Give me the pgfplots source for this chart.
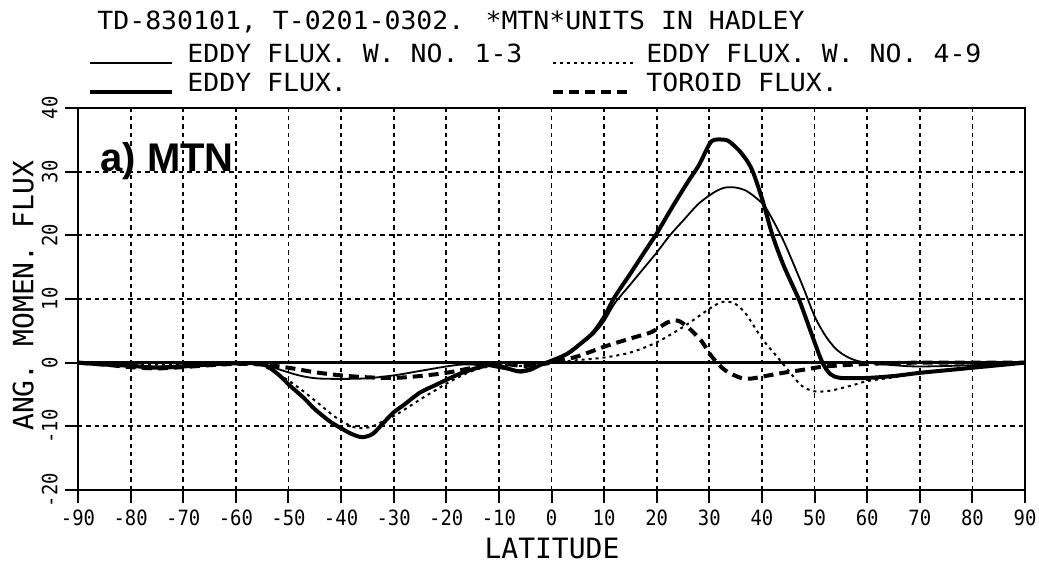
\documentclass[border=0pt]{standalone}
\usepackage{fontspec}
\usepackage{pgfplots}
\pgfplotsset{compat=1.18}
\newfontfamily\plotfont[FakeStretch=1.06]{DejaVu Sans Mono}
\newfontfamily\tickfont[FakeStretch=0.9]{DejaVu Sans Mono}
\newfontfamily\labfont{DejaVu Sans Mono}
\newfontfamily\tagfont{Liberation Sans}

\tikzset{
  w13/.style={line width=0.9pt},
  w49/.style={line width=1pt, dash pattern=on 1.5pt off 2pt},
  eddy/.style={line width=2pt},
  toroid/.style={line width=2pt, dash pattern=on 5pt off 3pt},
}

\begin{document}
\begin{tikzpicture}
\begin{axis}[
    scale only axis,
    width=473.5pt, height=191pt,
    xmin=-90, xmax=90, ymin=-20, ymax=40,
    clip mode=individual,
    xtick={-90,-80,-70,-60,-50,-40,-30,-20,-10,0,10,20,30,40,50,60,70,80,90},
    xticklabels={-90,-80,-70,-60,-50,-40,-30,-20,-10,0,10,20,30,40,50,60,70,80,90},
    ytick={-20,-10,0,10,20,30,40},
    yticklabels={},
    xtick pos=left, ytick pos=left,
    tick align=outside,
    major tick length=6.5pt,
    tick style={line width=1pt, black},
    grid=major,
    major grid style={line width=0.9pt, dash pattern=on 2.2pt off 2pt, black},
    axis line style={line width=1.3pt},
    xticklabel style={font=\tickfont\fontsize{10.5}{10.5}\selectfont},
    xlabel={LATITUDE},
    ylabel={ANG. MOMEN. FLUX},
    xlabel style={font=\labfont\fontsize{14}{14}\selectfont, at={(rel axis cs:0.5005,-0.154)}, anchor=center},
    ylabel style={font=\labfont\fontsize{14}{14}\selectfont, at={(rel axis cs:-0.058,0.508)}, anchor=center},
]
% zero line
\addplot[line width=1.6pt, forget plot] coordinates {(-90,0) (90,0)};

% eddy flux, wave numbers 1-3
\addplot[w13, smooth] coordinates {
    (-90,0) (-80,-0.4) (-75,-0.6) (-70,-0.4) (-60,-0.1) (-55,-0.2) (-52,-1)
    (-48,-2) (-44,-2.5) (-36,-2.5) (-30,-2) (-25,-1.3) (-20,-0.6) (-17,-0.3)
    (-13,-0.4) (-9,-1) (-6,-1.2) (-3,-0.6) (0,0.3) (3,1.3) (6,3.2) (8,4.5)
    (10,6.5) (12,9.3) (15,12.3) (18,15.3) (20,17.3) (22.5,20) (25,22.3)
    (28,25) (31,26.8) (33,27.5) (35,27.5) (37,27) (39,25.8) (40.5,24.6)
    (42,22.5) (44,19.3) (46,15.5) (48,11.5) (50,7.3) (52,4.3) (54,2.2)
    (56,1) (58,0.3) (60,0) (65,-0.4) (70,-0.6) (80,-0.4) (90,0)
};

% eddy flux, wave numbers 4-9
\addplot[w49, smooth] coordinates {
    (-90,0) (-80,-0.3) (-70,-0.3) (-60,-0.1) (-56,-0.2) (-53,-1.3) (-50,-2.8)
    (-47,-4.6) (-44,-6.6) (-41,-8.6) (-38,-10) (-36,-10.3) (-34,-10)
    (-32,-9.2) (-30,-8.4) (-28,-7.4) (-25,-5.8) (-22,-4.3) (-20,-3.3)
    (-17,-2) (-14,-1) (-10,-0.4) (-5,-0.5) (0,0) (5,0.4) (10,0.8) (15,1.6)
    (20,3.2) (25,5.6) (28,7.3) (31,9) (33,9.6) (35,9.2) (37,7.6) (40,3.8)
    (43,0.8) (45,-1.2) (47.5,-3.6) (50,-4.5) (53,-4.4) (57,-3.6) (60,-2.9)
    (65,-2.3) (70,-1.6) (80,-0.8) (90,0)
};

% total eddy flux
\addplot[eddy, smooth] coordinates {
    (-90,0) (-85,-0.3) (-80,-0.5) (-75,-0.8) (-70,-0.6) (-65,-0.3) (-60,-0.1)
    (-55,-0.2) (-52,-1.8) (-50,-3.4) (-47,-5.6) (-45,-7.3) (-42,-9.3)
    (-40,-10.3) (-38,-11.2) (-36,-11.7) (-34,-11.2) (-32,-9.5) (-30,-7.8)
    (-28,-6.6) (-25,-4.7) (-22,-3.5) (-20,-2.7) (-17,-1.6) (-14,-0.8)
    (-11,-0.3) (-8,-1) (-6,-1.4) (-4,-1.1) (-2,-0.3) (0,0.3) (3,1.4) (6,3.3)
    (8,4.8) (10,7.2) (12,10.3) (15,14) (18,17.8) (20,20.3) (23,24.5)
    (26,28.5) (28,31) (30,34.3) (31,35) (33,35) (34,34.6) (36,33) (38,30.5)
    (40,25.8) (42,20) (44,15.5) (46,11.8) (47,10) (48,7.8) (50,3.2)
    (51.5,0) (53,-1.8) (55,-2.4) (60,-2.4) (65,-2.1) (70,-1.6) (75,-1.2)
    (80,-0.8) (85,-0.4) (90,0)
};

% toroid flux
\addplot[toroid, smooth] coordinates {
    (-90,0) (-85,-0.3) (-80,-0.7) (-75,-0.9) (-70,-0.7) (-65,-0.4) (-60,-0.2)
    (-55,-0.3) (-50,-0.8) (-45,-1.5) (-40,-2) (-35,-2.3) (-30,-2.4)
    (-25,-2.1) (-20,-1.6) (-15,-0.8) (-12,-0.3) (-9,-0.2) (-5,-0.5) (0,0)
    (5,1) (10,2.5) (15,3.8) (19,4.8) (22,6.3) (24,6.6) (26,5.5) (28.5,3.4)
    (30.5,0.9) (33,-1.2) (36,-2.4) (38,-2.5) (40,-2.2) (44,-1.6) (48,-1.1)
    (52,-0.6) (60,-0.2) (70,0) (90,0)
};

% rotated y tick labels
\pgfplotsinvokeforeach{-20,-10,0,10,20,30,40}{
  \node[rotate=90, anchor=south, inner sep=0pt,
        font=\tickfont\fontsize{10.5}{10.5}\selectfont]
        at ([xshift=-10pt]axis cs:-90,#1) {#1};
}
\end{axis}

% header and legend
\begin{scope}[every node/.style={anchor=base west, inner sep=0pt, font=\plotfont\fontsize{12.5}{13}\selectfont}]
\node at (9.5pt,230pt) {TD-830101, T-0201-0302. *MTN*UNITS IN HADLEY};
\draw[w13] (6pt,213.5pt) -- (47pt,213.5pt);
\node at (54.5pt,213.5pt) {EDDY FLUX. W. NO. 1-3};
\draw[w49] (237.5pt,213.5pt) -- (279pt,213.5pt);
\node at (284pt,213.5pt) {EDDY FLUX. W. NO. 4-9};
\draw[eddy] (6pt,199pt) -- (47pt,199pt);
\node at (54.5pt,199pt) {EDDY FLUX.};
\draw[toroid] (237.5pt,199pt) -- (277pt,199pt);
\node at (284pt,199pt) {TOROID FLUX.};
\end{scope}

\node[anchor=base west, inner sep=0pt, font=\tagfont\bfseries\fontsize{20}{20}\selectfont] at (11pt,159pt) {a) MTN};

\pgfresetboundingbox
\path[use as bounding box] (-39pt,-37.5pt) rectangle (480.5pt,245pt);
\end{tikzpicture}
\end{document}
